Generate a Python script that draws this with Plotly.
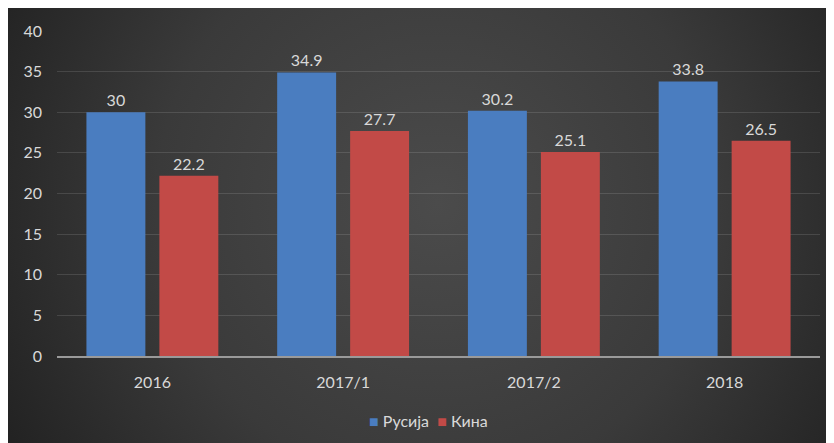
import base64
import plotly.graph_objects as go

categories = ["2016", "2017/1", "2017/2", "2018"]
russia = [30, 34.9, 30.2, 33.8]
china = [22.2, 27.7, 25.1, 26.5]
series_names = ["Русија", "Кина"]
colors = ["#4a7dc0", "#c24a47"]

# page body has 8px margin, so figure occupies 826x435 of the window
W, H = 826, 435
ml, mr, mt, mb = 49, 14, 23, 87
pw, ph = W - ml - mr, H - mt - mb

svg = '''<svg xmlns="http://www.w3.org/2000/svg" width="826" height="435" preserveAspectRatio="none" viewBox="0 0 826 435">
<defs><radialGradient id="g" cx="0.52" cy="0.45" r="0.62" gradientTransform="translate(0.52 0.45) scale(1 1.9) translate(-0.52 -0.45)">
<stop offset="0" stop-color="#4b4b4b"/><stop offset="0.55" stop-color="#3a3a3a"/><stop offset="1" stop-color="#202020"/></radialGradient></defs>
<rect width="826" height="435" fill="url(#g)"/></svg>'''
src = "data:image/svg+xml;base64," + base64.b64encode(svg.encode()).decode()

font = "Lato, 'Open Sans', sans-serif"
txtc = "#d9d9d9"
fs = 16

fig = go.Figure()
for name, vals, col in zip(series_names, [russia, china], colors):
    fig.add_bar(x=categories, y=vals, name=name, marker=dict(color=col, line=dict(width=0)),
                text=[str(v) for v in vals], textposition="outside",
                textfont=dict(color=txtc, size=fs, family=font), cliponaxis=False)

x0 = -ml / pw
x1 = (W - ml) / pw
ytop = (mt + ph) / ph
ybot = -mb / ph

legend_text = (f"<span style='color:{colors[0]}'>■</span> {series_names[0]}"
               f"  <span style='color:{colors[1]}'>■</span> {series_names[1]}")

fig.update_layout(
    width=W, height=H,
    margin=dict(l=ml, r=mr, t=mt, b=mb, autoexpand=False),
    paper_bgcolor="#2a2a2a",
    plot_bgcolor="rgba(0,0,0,0)",
    barmode="group", bargap=0.235, bargroupgap=0.192,
    font=dict(family=font, size=fs, color=txtc),
    showlegend=False,
    images=[dict(source=src, xref="paper", yref="paper", x=x0, y=ytop, sizex=x1 - x0, sizey=ytop - ybot,
                 xanchor="left", yanchor="top", sizing="stretch", layer="below")],
    yaxis=dict(range=[0, 40], dtick=5, showgrid=True, gridcolor="rgba(255,255,255,0.12)", gridwidth=1,
               zeroline=False, showline=False, ticks="", ticklabelstandoff=14, automargin=False,
               tickfont=dict(color=txtc, size=fs, family=font)),
    xaxis=dict(showline=True, linecolor="#9a9a9a", linewidth=2, ticks="", ticklabelstandoff=11,
               automargin=False, tickfont=dict(color=txtc, size=fs, family=font)),
    annotations=[dict(text=legend_text, xref="paper", yref="paper", x=(420 - ml) / pw,
                      y=(mt + ph - 412) / ph, xanchor="center", yanchor="middle", showarrow=False,
                      font=dict(color=txtc, size=fs, family=font))],
)

fig.write_html("out.html")
